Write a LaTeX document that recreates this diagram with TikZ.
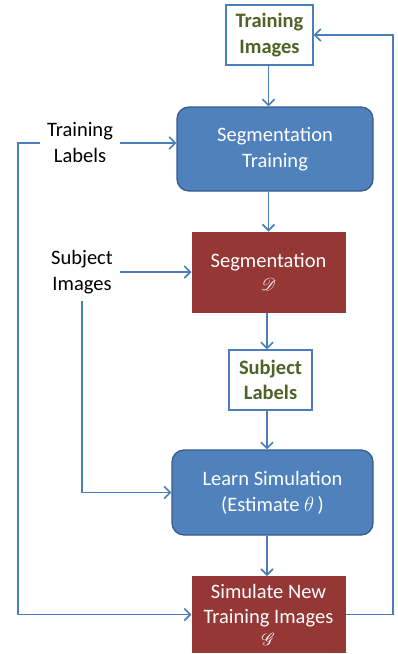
\documentclass[tikz,border=0pt]{standalone}
\usepackage{fontspec}
\setmainfont{Carlito}
\usepackage{mathrsfs}
\usetikzlibrary{arrows.meta}
\definecolor{procblue}{HTML}{4F81BD}
\definecolor{procedge}{HTML}{385D8A}
\definecolor{modelred}{HTML}{953735}
\definecolor{flowline}{HTML}{4A7EBB}
\definecolor{datagreen}{HTML}{4F6228}
\tikzset{
  base/.style={font=\fontsize{20.5}{26}\selectfont, align=center, inner sep=0pt},
  process/.style={base, text=white, fill=procblue, draw=procedge, line width=1.3pt, rounded corners=12pt},
  model/.style={base, text=white, fill=modelred, draw=modelred, line width=1pt},
  dataset/.style={base, font=\fontsize{20.5}{25.5}\selectfont\bfseries, text=datagreen, fill=white, draw=flowline, line width=1.3pt},
  freetext/.style={base, inner sep=7pt, text=black},
  flow/.style={draw=flowline, line width=1.9pt, -{Straight Barb[length=6pt,width=12pt,line width=1.6pt]}},
}
\begin{document}
\begin{tikzpicture}[x=1pt,y=-1pt]
\useasboundingbox (0,0) rectangle (398,654);

% main column of boxes
\node[dataset, minimum width=87pt, minimum height=60pt] (timg) at (269.5,35) {Training\\Images};
\node[process, minimum width=196pt, minimum height=84pt] (segtrain) at (275,149) {Segmentation\\Training};
\node[model, minimum width=153pt, minimum height=80pt] (seg) at (268.5,272) {Segmentation\\[-3pt]{\fontsize{17}{18}\selectfont$\mathscr{D}$}};
\node[dataset, minimum width=83pt, minimum height=60pt] (slab) at (270.5,380) {Subject\\Labels};
\node[process, minimum width=201pt, minimum height=85pt] (learn) at (272.5,492.5) {Learn Simulation\\(Estimate $\theta$\,)};
\node[model, minimum width=153pt, minimum height=76pt, anchor=north] (sim) at (268.5,576) {Simulate New\\[-1pt]Training Images\\[-4pt]{\fontsize{17}{18}\selectfont$\mathscr{G}$}};

% side inputs
\node[freetext] (tlab) at (80,143) {Training\\Labels};
\node[freetext] (simg) at (82,272) {Subject\\Images};

% routing corners
\coordinate (lcorner) at (18,143);
\coordinate (rcorner) at (393,35);

% vertical flow
\draw[flow] (timg.south -| seg.north) -- (segtrain.north -| seg.north);
\draw[flow] (segtrain.south -| seg.north) -- (seg.north);
\draw[flow] (seg.south -| 267,0) -- (slab.north -| 267,0);
\draw[flow] (slab.south -| 267,0) -- (learn.north -| 267,0);
\draw[flow] (learn.south -| 267,0) -- (sim.north -| 267,0);

% side flows
\draw[flow] (tlab.east) -- (segtrain.west |- tlab.east);
\draw[flow] (tlab.west) -- (lcorner) |- (sim.west);
\draw[flow] (simg.east) -- (seg.west |- simg.east);
\draw[flow] (simg.south) |- (learn.west);

% feedback loop
\draw[flow] (sim.east) -| (rcorner) -- (timg.east);
\end{tikzpicture}
\end{document}
